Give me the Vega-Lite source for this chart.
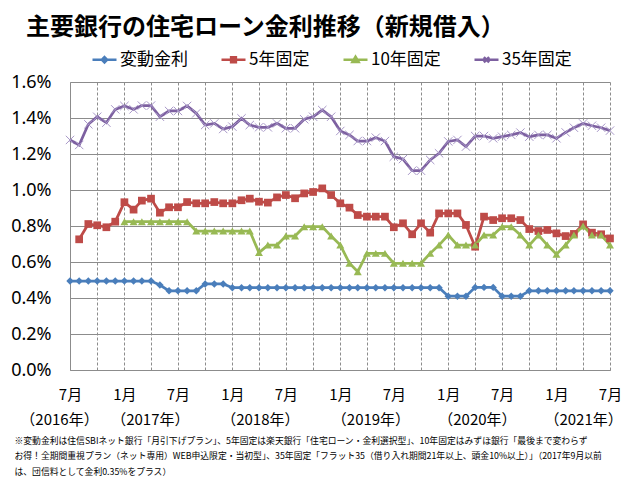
{
  "$schema": "https://vega.github.io/schema/vega-lite/v6.json",
  "width": 540,
  "height": 288,
  "autosize": {"type": "none"},
  "padding": {"left": 70, "top": 82, "right": 20, "bottom": 117},
  "background": "white",
  "config": {"view": {"stroke": null}, "font": "Noto Sans CJK JP"},
  "title": {
    "text": "主要銀行の住宅ローン金利推移（新規借入）",
    "anchor": "start",
    "frame": "group",
    "dx": -44,
    "dy": 26,
    "offset": 8,
    "baseline": "bottom",
    "fontSize": 24,
    "fontWeight": "bold",
    "font": "Noto Sans CJK JP",
    "color": "black"
  },
  "data": {
    "values": [
      {"date": "2016-07-01", "変動金利": 0.494, "5年固定": null, "10年固定": null, "35年固定": 1.278},
      {"date": "2016-08-01", "変動金利": 0.494, "5年固定": 0.726, "10年固定": null, "35年固定": 1.25},
      {"date": "2016-09-01", "変動金利": 0.494, "5年固定": 0.811, "10年固定": null, "35年固定": 1.365},
      {"date": "2016-10-01", "変動金利": 0.494, "5年固定": 0.804, "10年固定": null, "35年固定": 1.407},
      {"date": "2016-11-01", "変動金利": 0.494, "5年固定": 0.793, "10年固定": null, "35年固定": 1.374},
      {"date": "2016-12-01", "変動金利": 0.494, "5年固定": 0.824, "10年固定": null, "35年固定": 1.448},
      {"date": "2017-01-01", "変動金利": 0.494, "5年固定": 0.932, "10年固定": 0.824, "35年固定": 1.467},
      {"date": "2017-02-01", "変動金利": 0.494, "5年固定": 0.891, "10年固定": 0.824, "35年固定": 1.448},
      {"date": "2017-03-01", "変動金利": 0.494, "5年固定": 0.941, "10年固定": 0.824, "35年固定": 1.469},
      {"date": "2017-04-01", "変動金利": 0.494, "5年固定": 0.952, "10年固定": 0.824, "35年固定": 1.469},
      {"date": "2017-05-01", "変動金利": 0.472, "5年固定": 0.874, "10年固定": 0.824, "35年固定": 1.407},
      {"date": "2017-06-01", "変動金利": 0.44, "5年固定": 0.904, "10年固定": 0.824, "35年固定": 1.439},
      {"date": "2017-07-01", "変動金利": 0.44, "5年固定": 0.904, "10年固定": 0.824, "35年固定": 1.439},
      {"date": "2017-08-01", "変動金利": 0.44, "5年固定": 0.933, "10年固定": 0.824, "35年固定": 1.467},
      {"date": "2017-09-01", "変動金利": 0.44, "5年固定": 0.926, "10年固定": 0.772, "35年固定": 1.426},
      {"date": "2017-10-01", "変動金利": 0.478, "5年固定": 0.926, "10年固定": 0.772, "35年固定": 1.361},
      {"date": "2017-11-01", "変動金利": 0.478, "5年固定": 0.933, "10年固定": 0.772, "35年固定": 1.37},
      {"date": "2017-12-01", "変動金利": 0.478, "5年固定": 0.926, "10年固定": 0.772, "35年固定": 1.339},
      {"date": "2018-01-01", "変動金利": 0.457, "5年固定": 0.926, "10年固定": 0.772, "35年固定": 1.352},
      {"date": "2018-02-01", "変動金利": 0.457, "5年固定": 0.943, "10年固定": 0.772, "35年固定": 1.398},
      {"date": "2018-03-01", "変動金利": 0.457, "5年固定": 0.952, "10年固定": 0.772, "35年固定": 1.361},
      {"date": "2018-04-01", "変動金利": 0.457, "5年固定": 0.935, "10年固定": 0.652, "35年固定": 1.348},
      {"date": "2018-05-01", "変動金利": 0.457, "5年固定": 0.93, "10年固定": 0.694, "35年固定": 1.348},
      {"date": "2018-06-01", "変動金利": 0.457, "5年固定": 0.959, "10年固定": 0.694, "35年固定": 1.37},
      {"date": "2018-07-01", "変動金利": 0.457, "5年固定": 0.972, "10年固定": 0.744, "35年固定": 1.343},
      {"date": "2018-08-01", "変動金利": 0.457, "5年固定": 0.954, "10年固定": 0.744, "35年固定": 1.343},
      {"date": "2018-09-01", "変動金利": 0.457, "5年固定": 0.981, "10年固定": 0.796, "35年固定": 1.393},
      {"date": "2018-10-01", "変動金利": 0.457, "5年固定": 0.989, "10年固定": 0.796, "35年固定": 1.407},
      {"date": "2018-11-01", "変動金利": 0.457, "5年固定": 1.009, "10年固定": 0.796, "35年固定": 1.444},
      {"date": "2018-12-01", "変動金利": 0.457, "5年固定": 0.972, "10年固定": 0.744, "35年固定": 1.407},
      {"date": "2019-01-01", "変動金利": 0.457, "5年固定": 0.926, "10年固定": 0.694, "35年固定": 1.328},
      {"date": "2019-02-01", "変動金利": 0.457, "5年固定": 0.902, "10年固定": 0.593, "35年固定": 1.306},
      {"date": "2019-03-01", "変動金利": 0.457, "5年固定": 0.861, "10年固定": 0.546, "35年固定": 1.272},
      {"date": "2019-04-01", "変動金利": 0.457, "5年固定": 0.852, "10年固定": 0.648, "35年固定": 1.272},
      {"date": "2019-05-01", "変動金利": 0.457, "5年固定": 0.852, "10年固定": 0.648, "35年固定": 1.291},
      {"date": "2019-06-01", "変動金利": 0.457, "5年固定": 0.852, "10年固定": 0.648, "35年固定": 1.272},
      {"date": "2019-07-01", "変動金利": 0.457, "5年固定": 0.793, "10年固定": 0.593, "35年固定": 1.185},
      {"date": "2019-08-01", "変動金利": 0.457, "5年固定": 0.815, "10年固定": 0.593, "35年固定": 1.172},
      {"date": "2019-09-01", "変動金利": 0.457, "5年固定": 0.754, "10年固定": 0.593, "35年固定": 1.107},
      {"date": "2019-10-01", "変動金利": 0.457, "5年固定": 0.815, "10年固定": 0.593, "35年固定": 1.107},
      {"date": "2019-11-01", "変動金利": 0.457, "5年固定": 0.763, "10年固定": 0.648, "35年固定": 1.167},
      {"date": "2019-12-01", "変動金利": 0.457, "5年固定": 0.87, "10年固定": 0.694, "35年固定": 1.204},
      {"date": "2020-01-01", "変動金利": 0.41, "5年固定": 0.87, "10年固定": 0.75, "35年固定": 1.27},
      {"date": "2020-02-01", "変動金利": 0.41, "5年固定": 0.87, "10年固定": 0.694, "35年固定": 1.278},
      {"date": "2020-03-01", "変動金利": 0.41, "5年固定": 0.806, "10年固定": 0.694, "35年固定": 1.241},
      {"date": "2020-04-01", "変動金利": 0.459, "5年固定": 0.685, "10年固定": 0.694, "35年固定": 1.3},
      {"date": "2020-05-01", "変動金利": 0.459, "5年固定": 0.852, "10年固定": 0.75, "35年固定": 1.3},
      {"date": "2020-06-01", "変動金利": 0.459, "5年固定": 0.833, "10年固定": 0.75, "35年固定": 1.287},
      {"date": "2020-07-01", "変動金利": 0.41, "5年固定": 0.843, "10年固定": 0.796, "35年固定": 1.296},
      {"date": "2020-08-01", "変動金利": 0.41, "5年固定": 0.843, "10年固定": 0.796, "35年固定": 1.306},
      {"date": "2020-09-01", "変動金利": 0.41, "5年固定": 0.833, "10年固定": 0.75, "35年固定": 1.319},
      {"date": "2020-10-01", "変動金利": 0.44, "5年固定": 0.783, "10年固定": 0.694, "35年固定": 1.296},
      {"date": "2020-11-01", "変動金利": 0.44, "5年固定": 0.772, "10年固定": 0.75, "35年固定": 1.306},
      {"date": "2020-12-01", "変動金利": 0.44, "5年固定": 0.778, "10年固定": 0.694, "35年固定": 1.306},
      {"date": "2021-01-01", "変動金利": 0.44, "5年固定": 0.759, "10年固定": 0.643, "35年固定": 1.287},
      {"date": "2021-02-01", "変動金利": 0.44, "5年固定": 0.744, "10年固定": 0.694, "35年固定": 1.32},
      {"date": "2021-03-01", "変動金利": 0.44, "5年固定": 0.756, "10年固定": 0.75, "35年固定": 1.346},
      {"date": "2021-04-01", "変動金利": 0.44, "5年固定": 0.809, "10年固定": 0.8, "35年固定": 1.37},
      {"date": "2021-05-01", "変動金利": 0.44, "5年固定": 0.763, "10年固定": 0.75, "35年固定": 1.357},
      {"date": "2021-06-01", "変動金利": 0.44, "5年固定": 0.754, "10年固定": 0.75, "35年固定": 1.346},
      {"date": "2021-07-01", "変動金利": 0.44, "5年固定": 0.731, "10年固定": 0.694, "35年固定": 1.33}
    ]
  },
  "transform": [
    {"fold": ["変動金利", "5年固定", "10年固定", "35年固定"], "as": ["series", "rate"]},
    {"filter": "isValid(datum.rate)"}
  ],
  "encoding": {
    "x": {
      "field": "date",
      "type": "temporal",
      "scale": {
        "type": "utc",
        "domain": [
          {"year": 2016, "month": 7, "date": 1, "utc": true},
          {"year": 2021, "month": 7, "date": 1, "utc": true}
        ]
      },
      "axis": {
        "orient": "bottom",
        "tickCount": {"interval": "month", "step": 3},
        "grid": true,
        "gridDash": [3, 2],
        "gridColor": "#8c8c8c",
        "gridWidth": 1,
        "ticks": false,
        "domain": true,
        "domainColor": "#8c8c8c",
        "domainWidth": 1,
        "labelExpr": "utcmonth(datum.value) === 0 ? '1月' : (utcmonth(datum.value) === 6 ? '7月' : '')",
        "labelFontSize": 15,
        "labelFont": "Noto Sans CJK JP",
        "labelColor": "black",
        "labelPadding": 17,
        "labelOverlap": false,
        "labelFlush": false,
        "labelBound": false,
        "title": null
      }
    },
    "y": {
      "field": "rate",
      "type": "quantitative",
      "scale": {"domain": [0, 1.6]},
      "axis": {
        "values": [0, 0.2, 0.4, 0.6, 0.8, 1.0, 1.2, 1.4, 1.6],
        "grid": true,
        "gridColor": "#8c8c8c",
        "gridWidth": 1,
        "ticks": false,
        "domain": true,
        "domainColor": "#8c8c8c",
        "labelExpr": "format(datum.value, '.1f') + '%'",
        "labelFontSize": 18,
        "labelFont": "Noto Sans",
        "labelColor": "black",
        "labelPadding": 19,
        "labelOverlap": false,
        "title": null
      }
    }
  },
  "layer": [
    {
      "mark": {"type": "line", "strokeWidth": 2.75},
      "encoding": {
        "color": {
          "field": "series",
          "type": "nominal",
          "scale": {
            "domain": ["変動金利", "5年固定", "10年固定", "35年固定"],
            "range": ["#4A7EBB", "#BE4B48", "#98B954", "#7D60A0"]
          },
          "legend": {
            "orient": "none",
            "legendX": 21,
            "legendY": -36,
            "direction": "horizontal",
            "title": null,
            "labelFontSize": 17,
            "labelFont": "Noto Sans CJK JP",
            "labelColor": "black",
            "labelOffset": 2,
            "symbolSize": 576,
            "symbolStrokeWidth": 2.5,
            "columnPadding": 28,
            "encode": {
              "symbols": {
                "update": {
                  "shape": {"signal": "datum.value === '変動金利' ? 'M-1,0H1M0,-0.22L0.22,0L0,0.22L-0.22,0Z' : (datum.value === '5年固定' ? 'M-1,0H1M-0.2,-0.2H0.2V0.2H-0.2Z' : (datum.value === '10年固定' ? 'M-1,0H1M0,-0.26L0.26,0.18H-0.26Z' : 'M-1,0H1M-0.22,-0.22L0.22,0.22M-0.22,0.22L0.22,-0.22'))"},
                  "fill": {"scale": "color", "field": "value"},
                  "stroke": {"scale": "color", "field": "value"},
                  "strokeWidth": {"value": 2.5},
                  "opacity": {"value": 1}
                }
              }
            }
          }
        }
      }
    },
    {
      "transform": [{"filter": "datum.series !== '35年固定'"}],
      "mark": {"type": "point", "filled": true, "opacity": 1},
      "encoding": {
        "x": {
          "field": "date",
          "type": "temporal",
          "axis": {
            "orient": "bottom",
            "values": [
              {"year": 2016, "month": 7, "date": 1, "utc": true},
              {"year": 2017, "month": 3, "date": 28, "utc": true},
              {"year": 2018, "month": 4, "date": 4, "utc": true},
              {"year": 2019, "month": 4, "date": 13, "utc": true},
              {"year": 2020, "month": 4, "date": 7, "utc": true},
              {"year": 2021, "month": 4, "date": 1, "utc": true}
            ],
            "labelExpr": "'（' + utcyear(datum.value) + '年）'",
            "labelOffset": {"condition": {"test": "utcyear(datum.value) === 2016", "value": -11}, "value": 0},
            "grid": false,
            "ticks": false,
            "domain": false,
            "labelFontSize": 15,
            "labelFont": "Noto Sans CJK JP",
            "labelColor": "black",
            "labelPadding": 42,
            "labelOverlap": false,
            "labelFlush": false,
            "labelBound": false,
            "title": [
              "※変動金利は住信SBIネット銀行「月引下げプラン」、5年固定は楽天銀行「住宅ローン・金利選択型」、10年固定はみずほ銀行「最後まで変わらず",
              "お得！全期間重視プラン（ネット専用）WEB申込限定・当初型」、35年固定「フラット35（借り入れ期間21年以上、頭金10%以上）」（2017年9月以前",
              "は、団信料として金利0.35%をプラス）"
            ],
            "titleFont": "Noto Sans CJK JP",
            "titleFontSize": 8.8,
            "titleFontWeight": "normal",
            "titleColor": "black",
            "titleAlign": "left",
            "titleAnchor": "start",
            "titleBaseline": "top",
            "titleX": -56,
            "titleY": 66,
            "titleLineHeight": 15.5
          }
        },
        "shape": {
          "field": "series",
          "type": "nominal",
          "scale": {"domain": ["変動金利", "5年固定", "10年固定"], "range": ["diamond", "square", "triangle-up"]},
          "legend": null
        },
        "fill": {
          "field": "series",
          "type": "nominal",
          "scale": {"domain": ["変動金利", "5年固定", "10年固定"], "range": ["#4A7EBB", "#BE4B48", "#98B954"]},
          "legend": null
        },
        "size": {
          "field": "series",
          "type": "nominal",
          "scale": {"domain": ["変動金利", "5年固定", "10年固定"], "range": [55, 64, 80]},
          "legend": null
        }
      }
    },
    {
      "transform": [{"filter": "datum.series === '35年固定'"}],
      "mark": {"type": "point", "shape": "M-1,-1L1,1M-1,1L1,-1", "filled": false, "stroke": "#A898C8", "strokeWidth": 1, "size": 70, "opacity": 1},
      "encoding": {
        "x": {"field": "date", "type": "temporal", "axis": null}
      }
    }
  ],
  "resolve": {"axis": {"x": "independent"}}
}
